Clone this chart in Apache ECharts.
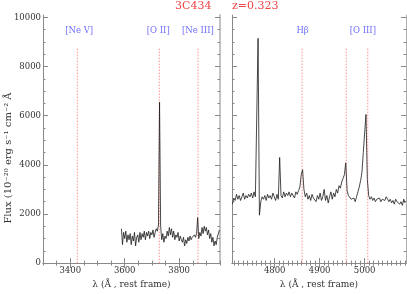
<!DOCTYPE html>
<html><head><meta charset="utf-8">
<script src="https://cdn.jsdelivr.net/npm/echarts@6/dist/echarts.min.js"></script>
<style>html,body{margin:0;padding:0;background:#fff}#c{width:407px;height:294px}</style>
</head><body><div id="c"></div>
<script>
// ---- data ----
const leftStart = 3588, leftStep = 4;
const leftFlux = [1400,750,1250,1000,1300,850,1150,950,1200,750,1100,900,1250,700,1050,1150,850,1250,950,1200,
1050,1300,950,1250,1100,1300,1000,1250,1150,1350,1050,1250,1400,1300,1550,6550,1500,950,1200,850,
1100,1000,1300,1100,1450,1150,1400,1050,1300,950,1150,1050,1250,900,1100,950,850,1050,700,950,
800,1050,900,1100,950,1050,1000,1150,1050,1200,1850,1000,1250,1100,1450,1200,1500,1300,1450,1150,
1350,1000,1200,850,1050,700,900,750,1050,1000,1350];
const rightStart = 4706, rightStep = 3;
const rightFlux = [2400,2650,2550,2800,2600,2750,2550,2700,2850,2600,2750,2650,2800,2700,2850,2650,2900,2700,2650,9150,
1950,2500,2700,2600,2750,2550,2800,2650,2750,2600,2850,2700,2550,2800,2600,4300,2750,2650,2900,2700,
2850,2750,2900,2700,2850,2800,2650,2900,2800,2950,3100,3600,3800,3000,2700,2850,2600,2750,2550,2800,
2650,2700,2500,2750,2600,2850,2550,2700,3000,2550,2750,2450,2700,2900,2600,2850,2700,3000,2850,3150,
3050,3300,3450,3600,4080,2950,2750,2800,2600,2550,2650,2500,2700,2900,3100,3350,3700,4500,5300,6050,
3400,2750,2600,2700,2550,2650,2500,2600,2550,2650,2500,2600,2650,2550,2700,2600,2500,2600,2450,2550,
2400,2600,2500,2550,2400,2500,2350,2600,2450];
const leftLineNames = ['[Ne V]','[O II]','[Ne III]'];
const leftLineWave = [3426, 3727, 3869];
const leftLabelWave = [3433, 3723, 3869];
const rightLineNames = ['H\u03b2','[O III]'];
const rightLineWave = [4861, 4959, 5007];
const rightLabelWave = [4862, 4996];
const leftXTicks = [3400, 3600, 3800];
const rightXTicks = [4800, 4900, 5000];
const yTicks = [0, 2000, 4000, 6000, 8000, 10000];
const titleText = '3C434';
const redshiftText = 'z=0.323';
const xName = '\u03bb (\u00c5 , rest frame)';
const yName = 'Flux (10\u207b\u00b2\u2070 erg s\u207b\u00b9 cm\u207b\u00b2 \u00c5';

// ---- layout ----
const FONT = 'DejaVu Serif';
const AX = '#888';
const ranges = [[3300, 3950], [4705, 5092]];
const minorStep = [50, 10];
const yMin = 0, yMax = 10100;
const grids = [
  {left: 43, top: 15, width: 177, height: 254},
  {left: 232, top: 15, width: 174, height: 254}
];
function seq(a, b, s) { const r = []; for (let v = Math.ceil(a / s) * s; v <= b + 1e-9; v += s) r.push(v); return r; }
const yMinor = seq(yMin, yMax, 500);
const plain = v => String(Math.round(v));

const xAxis = [], yAxis = [];
for (let g = 0; g < 2; g++) {
  const [mn, mx] = ranges[g];
  const major = g === 0 ? leftXTicks : rightXTicks;
  const minor = seq(mn, mx, minorStep[g]);
  const base = {type: 'value', gridIndex: g, min: mn, max: mx, splitLine: {show: false}};
  xAxis.push(Object.assign({}, base, {position: 'bottom',
    axisLine: {show: true, lineStyle: {color: AX, width: 1}},
    axisTick: {show: true, inside: true, length: 5, customValues: major, lineStyle: {color: AX}},
    axisLabel: {show: true, customValues: major, formatter: plain, margin: 3, fontFamily: FONT, fontSize: 8.5, color: '#333'},
    name: xName, nameLocation: 'middle', nameGap: 15,
    nameTextStyle: {fontFamily: FONT, fontSize: 9, color: '#333'}}));
  xAxis.push(Object.assign({}, base, {position: 'top',
    axisLine: {show: true, lineStyle: {color: AX, width: 1}},
    axisTick: {show: true, inside: true, length: 5, customValues: major, lineStyle: {color: AX}},
    axisLabel: {show: false}}));
  ['bottom', 'top'].forEach(p => xAxis.push(Object.assign({}, base, {position: p,
    axisLine: {show: false},
    axisTick: {show: true, inside: true, length: 2.5, customValues: minor, lineStyle: {color: AX}},
    axisLabel: {show: false}})));
  const ybase = {type: 'value', gridIndex: g, min: yMin, max: yMax, splitLine: {show: false}};
  yAxis.push(Object.assign({}, ybase, {position: 'left',
    axisLine: {show: true, lineStyle: {color: AX, width: 1}},
    axisTick: {show: true, inside: true, length: 5, customValues: yTicks, lineStyle: {color: AX}},
    axisLabel: {show: g === 0, customValues: yTicks, formatter: plain, margin: 2, fontFamily: FONT, fontSize: 8.5, color: '#333'}}));
  yAxis.push(Object.assign({}, ybase, {position: 'right',
    axisLine: {show: true, lineStyle: {color: g === 0 ? '#c4c4c4' : '#aaa', width: g === 0 ? 2 : 1}},
    axisTick: {show: true, inside: true, length: 5, customValues: yTicks, lineStyle: {color: AX}},
    axisLabel: {show: false}}));
  ['left', 'right'].forEach(p => yAxis.push(Object.assign({}, ybase, {position: p,
    axisLine: {show: false},
    axisTick: {show: true, inside: true, length: 2.5, customValues: yMinor, lineStyle: {color: AX}},
    axisLabel: {show: false}})));
}

const series = [];
function addGrid(g, start, step, flux, lineWave, labelNames, labelWave) {
  const xi = g * 4, yi = g * 4;
  lineWave.forEach(w => series.push({type: 'line', xAxisIndex: xi, yAxisIndex: yi, symbol: 'none', silent: true,
    data: [[w, 0], [w, 8800]], lineStyle: {color: '#ff9090', width: 1, type: [1.5, 1.5]}, z: 1}));
  series.push({type: 'line', xAxisIndex: xi, yAxisIndex: yi, symbol: 'none', z: 3,
    data: flux.map((v, i) => [start + i * step, v]), lineStyle: {color: '#1a1a1a', width: 0.8}});
  series.push({type: 'scatter', xAxisIndex: xi, yAxisIndex: yi, symbolSize: 0, silent: true,
    data: labelNames.map((n, i) => ({name: n, value: [labelWave[i], 9450]})),
    label: {show: true, position: 'inside', formatter: '{b}', fontFamily: FONT, fontSize: 8.5, color: '#4848ff'}});
}
addGrid(0, leftStart, leftStep, leftFlux, leftLineWave, leftLineNames, leftLabelWave);
addGrid(1, rightStart, rightStep, rightFlux, rightLineWave, rightLineNames, rightLabelWave);

const chart = echarts.init(document.getElementById('c'), null, {renderer: 'canvas'});
chart.setOption({
  animation: false,
  backgroundColor: '#fff',
  title: [
    {text: titleText, left: 175, top: 1, padding: 0, textStyle: {color: '#ee4444', fontSize: 11, fontFamily: FONT, fontWeight: 'normal'}},
    {text: redshiftText, left: 232, top: 1, padding: 0, textStyle: {color: '#ee4444', fontSize: 11, fontFamily: FONT, fontWeight: 'normal'}}
  ],
  grid: grids,
  xAxis: xAxis,
  yAxis: yAxis,
  series: series,
  graphic: [{type: 'text', x: 8, y: 158, rotation: Math.PI / 2,
    style: {text: yName, font: '10px "DejaVu Serif"', fill: '#333', align: 'center', verticalAlign: 'middle'}}]
});
</script></body></html>
